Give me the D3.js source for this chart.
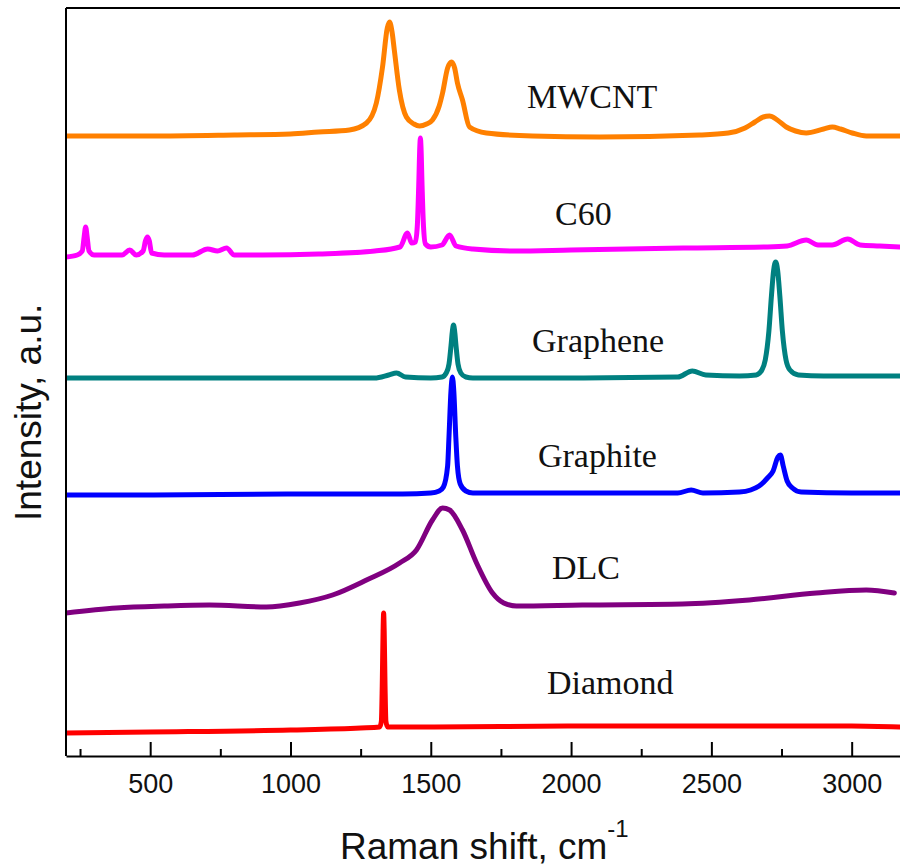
<!DOCTYPE html>
<html>
<head>
<meta charset="utf-8">
<script src="https://cdn.jsdelivr.net/npm/d3@7"></script>
<style>
  html, body { margin: 0; padding: 0; background: #fff; }
  svg { display: block; }
</style>
</head>
<body>
<svg id="chart" width="900" height="867"></svg>
<script>
// ---------- DATA (Raman shift in cm-1, intensity in arbitrary units, stacked offsets included) ----------
const seriesNames = ["MWCNT", "C60", "Graphene", "Graphite", "DLC", "Diamond"];

const mwcnt = [
  [200,620],[500,620],[800,621],[1000,622],[1100,624],[1210,626],[1271,633],[1306,653],[1328,689],
  [1345,728],[1353,734],[1362,724],[1370,706],[1388,666],[1413,639],[1440,632],[1460,630],[1485,632],
  [1506,636],[1530,650],[1542,663],[1560,688],[1574,694],[1585,688],[1595,673],[1613,656],[1638,629],
  [1698,623],[1862,620],[2101,619],[2457,621],[2560,623],[2620,628],[2655,634],[2685,639],[2707,640],
  [2735,636],[2767,629],[2800,625],[2838,623],[2900,627],[2931,629],[2960,627],[3002,623],[3052,620],[3170,620]
];

const c60 = [
  [200,499],[240,501],[258,505],[265,520],[270,529],[275,520],[282,505],[300,501],[400,501],[427,506],
  [450,501],[475,505],[483,515],[490,519],[497,515],[505,503],[550,501],[650,501],[705,507],[740,505],
  [772,508],[800,501],[900,501],[1100,502],[1300,505],[1390,509],[1417,523],[1432,513],[1445,514],
  [1452,530],[1457,570],[1461,610],[1463,618],[1465,610],[1469,570],[1474,530],[1481,512],[1500,509],
  [1540,511],[1567,521],[1590,510],[1650,507],[1800,505],[2000,506],[2400,508],[2700,509],[2770,510],
  [2838,516],[2880,511],[2930,511],[2986,517],[3030,511],[3100,510],[3170,509]
];

const graphene = [
  [200,378],[500,378],[1000,378],[1300,378],[1350,381],[1378,383],[1410,379],[1500,378],[1540,379],
  [1555,383],[1565,392],[1572,410],[1577,425],[1581,431],[1585,425],[1590,410],[1597,392],[1607,383],
  [1625,379],[1650,378],[2000,378],[2380,379],[2432,385],[2480,381],[2600,380],[2660,381],[2680,386],
  [2692,396],[2705,425],[2714,460],[2722,486],[2729,494],[2736,486],[2744,460],[2753,425],[2766,396],
  [2780,386],[2810,381],[2900,380],[3170,380]
];

const graphite = [
  [200,261],[500,261],[1000,262],[1400,262],[1500,263],[1530,265],[1545,269],[1560,290],[1565,320],
  [1572,365],[1577,379],[1582,365],[1589,320],[1595,290],[1605,272],[1625,265],[1650,263],[2000,263],
  [2380,263],[2428,266],[2470,263],[2600,264],[2640,266],[2670,270],[2700,278],[2720,285],[2737,299],
  [2746,301],[2756,290],[2770,275],[2789,268],[2820,264],[3000,263],[3170,263]
];

const dlc = [
  [200,143],[380,148],[550,150],[711,151],[914,149],[1032,153],[1150,161],[1271,176],[1389,193],
  [1449,206],[1506,236],[1542,248],[1567,246],[1613,226],[1663,193],[1720,163],[1760,153],[1805,150],
  [2040,151],[2397,152],[2635,156],[2874,163],[3052,166],[3152,163]
];

const diamond = [
  [200,23],[500,24],[1000,26],[1250,28],[1318,29],[1324,35],[1327,70],[1330,125],[1332,143],[1334,125],
  [1337,70],[1340,35],[1346,29],[1500,29],[2000,30],[2500,30],[3000,30],[3170,29]
];

const majorTicks = [500, 1000, 1500, 2000, 2500, 3000];
const minorTicks = [250, 750, 1250, 1750, 2250, 2750];
const xTitle = "Raman shift, cm";
const xTitleSup = "-1";
const yTitle = "Intensity, a.u.";

// ---------- LAYOUT / STYLE ----------
const colors = ["#ff8000", "#ff00ff", "#008080", "#0000ff", "#800080", "#ff0000"];
const seriesData = [mwcnt, c60, graphene, graphite, dlc, diamond];
// label anchors in data coordinates (cm-1, a.u.)
const labelAnchors = [[1843,648],[1943,531],[1861,404],[1882,289],[1932,177],[1914,62]];

const mLeft = 66, mTop = 8, mBottom = 756;
const x = d3.scaleLinear().domain([200, 3200]).range([mLeft, mLeft + 3000 * 0.2806]);
const y = d3.scaleLinear().domain([0, 748]).range([mBottom, mTop]);
const mRight = x.range()[1];

const svg = d3.select("#chart");

svg.append("defs").append("clipPath").attr("id", "plotclip")
  .append("rect").attr("x", mLeft).attr("y", mTop)
  .attr("width", mRight - mLeft).attr("height", mBottom - mTop);

const line = d3.line().x(d => x(d[0])).y(d => y(d[1])).curve(d3.curveMonotoneX);

const g = svg.append("g").attr("clip-path", "url(#plotclip)");
seriesData.forEach((s, i) => {
  g.append("path").datum(s)
    .attr("d", line)
    .attr("fill", "none")
    .attr("stroke", colors[i])
    .attr("stroke-width", 5)
    .attr("stroke-linejoin", "round")
    .attr("stroke-linecap", "round");
});

// labels
seriesNames.forEach((n, i) => {
  svg.append("text")
    .attr("x", x(labelAnchors[i][0]))
    .attr("y", y(labelAnchors[i][1]))
    .attr("font-family", "'Liberation Serif', 'Times New Roman', serif")
    .attr("font-size", 34)
    .attr("fill", "#111")
    .text(n);
});

// frame (right edge lies outside the viewport)
svg.append("line").attr("x1", mLeft).attr("x2", mRight).attr("y1", mTop).attr("y2", mTop)
  .attr("stroke", "#000").attr("stroke-width", 2);
svg.append("line").attr("x1", mLeft).attr("x2", mLeft).attr("y1", mTop).attr("y2", mBottom)
  .attr("stroke", "#000").attr("stroke-width", 2);
svg.append("line").attr("x1", mRight).attr("x2", mRight).attr("y1", mTop).attr("y2", mBottom)
  .attr("stroke", "#000").attr("stroke-width", 2);

// x axis
const xAxis = d3.axisBottom(x).tickValues(majorTicks).tickSizeInner(-14).tickSizeOuter(0)
  .tickPadding(18).tickFormat(d3.format("d"));
const ax = svg.append("g").attr("transform", `translate(0,${mBottom})`).call(xAxis);
ax.select(".domain").attr("stroke-width", 2).attr("stroke", "#000");
ax.selectAll(".tick line").attr("stroke-width", 2).attr("stroke", "#000");
ax.selectAll(".tick text")
  .attr("font-family", "'Liberation Sans', Arial, sans-serif")
  .attr("font-size", 27).attr("fill", "#111");

const xMinor = d3.axisBottom(x).tickValues(minorTicks).tickSizeInner(-7).tickSizeOuter(0).tickFormat("");
const axm = svg.append("g").attr("transform", `translate(0,${mBottom})`).call(xMinor);
axm.select(".domain").remove();
axm.selectAll(".tick line").attr("stroke-width", 2).attr("stroke", "#000");

// axis titles
const xt = svg.append("text")
  .attr("x", 340).attr("y", 859)
  .attr("font-family", "'Liberation Sans', Arial, sans-serif")
  .attr("font-size", 37).attr("fill", "#111");
xt.append("tspan").text(xTitle);
xt.append("tspan").attr("dy", -22).attr("font-size", 24).text(xTitleSup);

svg.append("text")
  .attr("transform", "translate(41,521) rotate(-90)")
  .attr("font-family", "'Liberation Sans', Arial, sans-serif")
  .attr("font-size", 37).attr("fill", "#111")
  .text(yTitle);
</script>
</body>
</html>
